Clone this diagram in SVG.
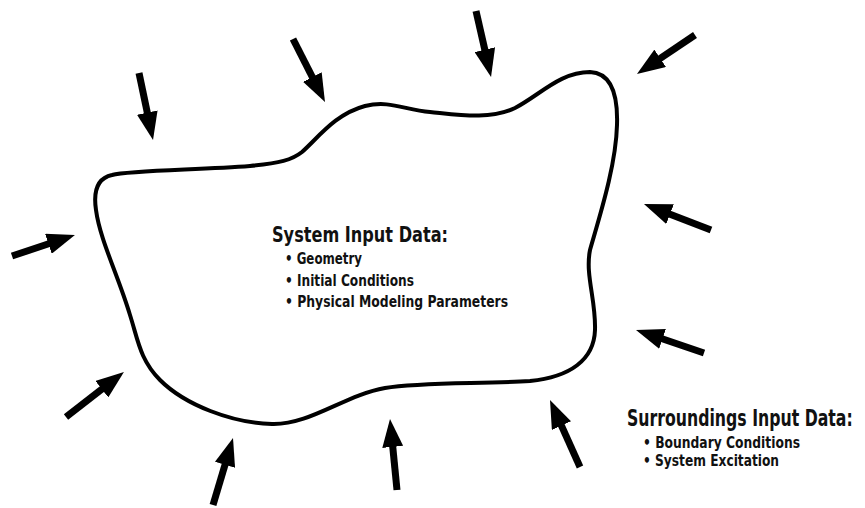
<svg xmlns="http://www.w3.org/2000/svg" width="865" height="508" viewBox="0 0 865 508">
<style>
.blob{fill:none;stroke:#000;stroke-width:4;stroke-linejoin:round}
.arr{stroke:#000;stroke-width:7;fill:none}
.t{font-family:"Liberation Sans Narrow","DejaVu Sans Condensed","Liberation Sans",sans-serif;font-weight:bold;fill:#111}
.h{font-size:22px}
.b{font-size:16px}
</style>
<defs>
<marker id="ah" markerUnits="strokeWidth" markerWidth="4" markerHeight="3" refX="0.5" refY="1.5" orient="auto" viewBox="0 0 4 3">
<path d="M0,0 L4,1.5 L0,3 z" fill="#000"/>
</marker>
</defs>
<rect width="865" height="508" fill="#fff"/>
<g id="system">
<path class="blob" d="M112,175 C130,170 200,170 250,166 C280,163 292,160 302,152 C318,138 335,114 365,106 C390,100 405,110 430,112 C460,115 490,120 515,108 C540,95 560,72 590,72 C612,73 618,95 617,125 C616,165 600,215 590,250 C585,275 596,300 595,330 C594,360 570,377 530,381 C480,384 420,382 385,388 C345,395 310,425 272,424 C232,423 185,405 160,380 C140,360 138,340 130,315 C118,275 100,240 96,210 C93,190 98,178 112,175 Z"/>
<text class="t h" x="272" y="242" textLength="176" lengthAdjust="spacingAndGlyphs">System Input Data:</text>
<text class="t b" x="285" y="264" textLength="77" lengthAdjust="spacingAndGlyphs">• Geometry</text>
<text class="t b" x="285" y="286" textLength="129" lengthAdjust="spacingAndGlyphs">• Initial Conditions</text>
<text class="t b" x="285" y="307" textLength="223" lengthAdjust="spacingAndGlyphs">• Physical Modeling Parameters</text>
</g>
<g id="surroundings">
<text class="t" style="font-size:23px" transform="translate(627,426) scale(0.76,1)" x="0" y="0" textLength="297" lengthAdjust="spacingAndGlyphs">Surroundings Input Data:</text>
<text class="t b" x="643" y="448" textLength="157" lengthAdjust="spacingAndGlyphs">• Boundary Conditions</text>
<text class="t b" x="643" y="466" textLength="136" lengthAdjust="spacingAndGlyphs">• System Excitation</text>
</g>
<g id="connectors" class="arr">
<line x1="139" y1="73" x2="148" y2="116" marker-end="url(#ah)"/>
<line x1="293" y1="39" x2="313.9" y2="80.2" marker-end="url(#ah)"/>
<line x1="476" y1="11" x2="485.6" y2="53.1" marker-end="url(#ah)"/>
<line x1="695" y1="35" x2="657.3" y2="60.3" marker-end="url(#ah)"/>
<line x1="711" y1="230" x2="666.8" y2="212.9" marker-end="url(#ah)"/>
<line x1="704" y1="353" x2="659.2" y2="337.8" marker-end="url(#ah)"/>
<line x1="580" y1="467" x2="560" y2="422.4" marker-end="url(#ah)"/>
<line x1="397" y1="490" x2="392.4" y2="443.4" marker-end="url(#ah)"/>
<line x1="213" y1="505" x2="226" y2="461.5" marker-end="url(#ah)"/>
<line x1="66" y1="417" x2="104.6" y2="387" marker-end="url(#ah)"/>
<line x1="12" y1="256" x2="51.7" y2="242.7" marker-end="url(#ah)"/>
</g>
</svg>
